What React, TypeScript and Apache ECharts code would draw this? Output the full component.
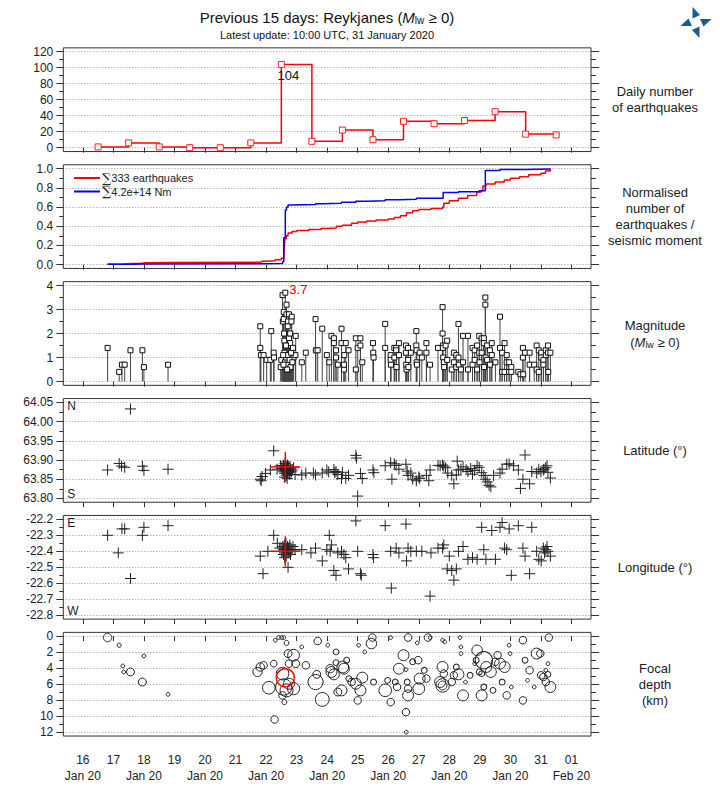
import React, { useEffect, useRef } from 'react';
import * as echarts from 'echarts';

const FONT = '"Liberation Sans", Arial, sans-serif';
const X_MIN = 15.36;
const X_MAX = 32.64;
const dayTicks = [16, 17, 18, 19, 20, 21, 22, 23, 24, 25, 26, 27, 28, 29, 30, 31, 32];

// Panel 1: daily number of earthquakes (day noon, count)
const dailyDays = [16.5, 17.5, 18.5, 19.5, 20.5, 21.5, 22.5, 23.5, 24.5, 25.5, 26.5, 27.5, 28.5, 29.5, 30.5, 31.5];
const dailyCounts = [1, 6, 1, 0, 0, 6, 104, 8, 22, 10, 33, 30, 34, 45, 17, 16];

// Panel 2: normalised cumulative curves [day, value]
const cumCount: [number, number][] = [
  [16.8, 0.003], [17.2, 0.006], [17.35, 0.012], [17.6, 0.015], [17.95, 0.018], [18.0, 0.021], [18.8, 0.024],
  [21.75, 0.027], [21.85, 0.035], [22.0, 0.04], [22.3, 0.05], [22.5, 0.065], [22.58, 0.075], [22.6, 0.2],
  [22.62, 0.27], [22.66, 0.3], [22.72, 0.33], [22.85, 0.345], [23.0, 0.355], [23.4, 0.365], [23.8, 0.375],
  [24.0, 0.38], [24.3, 0.4], [24.5, 0.41], [24.8, 0.43], [25.0, 0.444], [25.3, 0.455], [25.6, 0.465],
  [26.0, 0.474], [26.2, 0.49], [26.4, 0.51], [26.6, 0.54], [26.8, 0.56], [27.0, 0.574], [27.4, 0.585],
  [27.78, 0.6], [27.82, 0.64], [28.0, 0.664], [28.3, 0.69], [28.6, 0.72], [28.9, 0.755], [29.05, 0.77],
  [29.1, 0.82], [29.2, 0.84], [29.5, 0.86], [29.8, 0.88], [30.0, 0.9], [30.3, 0.915], [30.6, 0.935],
  [31.0, 0.952], [31.15, 0.975], [31.31, 1.0],
];
const cumMoment: [number, number][] = [
  [16.81, 0.004], [17.56, 0.007], [17.95, 0.009], [21.81, 0.012], [22.54, 0.03], [22.58, 0.28], [22.63, 0.57],
  [22.67, 0.6], [22.72, 0.62], [22.84, 0.625], [23.62, 0.635], [23.84, 0.64], [24.47, 0.65], [24.94, 0.66],
  [25.3, 0.665], [25.9, 0.675], [26.35, 0.68], [26.92, 0.69], [27.78, 0.695], [27.8, 0.75], [28.3, 0.76],
  [28.98, 0.77], [29.18, 0.98], [29.66, 0.99], [30.5, 0.995], [31.31, 1.0],
];
const countLegend = '∑333 earthquakes';
const momentLegend = '∑4.2e+14 Nm';

// Panel 3: magnitudes [day, M]
const magEvents: [number, number][] = [
  [16.81, 1.4], [17.19, 0.4], [17.28, 0.7], [17.37, 0.7], [17.56, 1.3], [17.95, 1.3], [18.0, 0.6], [18.79, 0.7],
  [21.81, 2.3], [21.81, 1.4], [21.83, 1.1], [21.92, 1.1], [22.02, 0.9], [22.14, 0.9], [22.17, 2.1], [22.25, 1.2], [22.26, 1.0],
  [22.48, 0.6], [22.5, 0.9], [22.54, 3.6], [22.55, 2.5], [22.58, 2.9], [22.58, 2.6], [22.59, 2.0], [22.6, 1.7],
  [22.67, 3.2], [22.67, 2.8], [22.72, 2.5], [22.71, 2.3], [22.72, 1.5], [22.75, 2.8], [22.75, 1.8],
  [22.76, 1.0], [22.79, 2.0], [22.79, 1.6], [22.84, 2.7], [22.83, 2.5], [22.9, 1.0], [22.97, 1.9], [22.96, 1.1],
  [22.6, 1.2], [22.62, 0.8], [22.64, 0.6], [22.66, 1.0], [22.68, 0.7], [22.7, 1.1], [22.73, 0.5], [22.77, 0.9],
  [22.8, 0.6], [22.82, 1.2], [22.86, 0.8], [22.88, 1.4], [22.65, 1.5], [22.69, 0.5], [22.56, 1.1], [22.57, 0.7],
  [23.17, 0.8], [23.3, 1.2], [23.62, 2.6], [23.63, 1.3], [23.69, 1.3], [23.84, 2.2], [23.99, 1.1], [24.07, 0.8],
  [24.14, 1.9], [24.22, 1.8], [24.22, 1.6], [24.29, 1.3], [24.29, 1.0], [24.35, 0.7], [24.47, 2.2], [24.47, 1.6],
  [24.55, 0.5], [24.55, 0.7], [24.56, 1.1], [24.61, 1.6], [24.7, 1.3], [24.94, 1.8], [24.94, 0.5], [25.0, 1.4],
  [25.09, 1.8], [25.09, 1.5], [25.15, 0.8], [25.5, 1.6], [25.51, 1.2], [25.52, 1.0], [25.9, 2.4], [25.9, 1.4],
  [26.08, 1.1], [26.08, 0.9], [26.09, 0.7], [26.2, 1.4], [26.2, 1.0], [26.26, 1.4], [26.26, 1.3], [26.27, 0.6],
  [26.35, 1.6], [26.35, 1.1], [26.58, 1.5], [26.58, 1.2], [26.59, 0.7], [26.6, 0.5], [26.65, 1.4], [26.65, 0.9],
  [26.66, 0.6], [26.74, 1.2], [26.92, 2.1], [26.92, 1.5], [26.93, 1.3], [26.93, 0.8], [26.94, 0.7], [27.03, 1.2],
  [27.1, 1.0], [27.25, 1.6], [27.25, 1.2], [27.37, 0.7], [27.63, 1.4], [27.78, 3.1], [27.78, 2.0], [27.79, 1.5],
  [27.79, 1.4], [27.8, 1.0], [27.82, 0.8], [27.83, 0.6], [27.88, 1.5], [27.93, 1.7], [27.93, 0.9], [28.08, 0.5],
  [28.15, 1.2], [28.15, 0.8], [28.23, 1.1], [28.23, 0.6], [28.3, 2.4], [28.3, 1.0], [28.31, 0.7], [28.38, 0.5],
  [28.45, 1.9], [28.45, 0.8], [28.61, 1.9], [28.61, 0.5], [28.76, 1.4], [28.76, 0.7], [28.83, 1.3], [28.83, 0.9],
  [28.91, 1.5], [28.91, 0.5], [28.98, 1.9], [28.98, 1.2], [28.99, 0.8], [29.06, 1.8], [29.06, 1.2], [29.13, 1.8],
  [29.13, 1.6], [29.14, 0.6], [29.18, 3.5], [29.18, 3.2], [29.19, 1.0], [29.24, 1.5], [29.24, 0.9], [29.33, 1.3],
  [29.33, 0.7], [29.39, 1.6], [29.39, 1.1], [29.51, 0.8], [29.66, 2.7], [29.66, 1.4], [29.73, 1.2], [29.73, 0.4],
  [29.81, 1.6], [29.81, 0.4], [29.88, 1.1], [29.88, 0.8], [29.96, 0.8], [29.96, 0.4], [30.03, 0.6], [30.03, 0.4],
  [30.26, 0.4], [30.33, 0.3], [30.41, 1.4], [30.41, 1.0], [30.42, 0.3], [30.48, 1.2], [30.63, 1.2], [30.63, 0.7],
  [30.78, 0.7], [30.86, 1.5], [30.86, 0.5], [30.93, 1.3], [30.93, 0.4], [31.01, 1.2], [31.01, 1.0], [31.08, 0.9],
  [31.08, 0.7], [31.16, 1.1], [31.16, 1.3], [31.23, 1.5], [31.23, 1.2], [31.24, 0.4], [31.31, 1.2],
];
const largestEvent = { day: 22.63, mag: 3.7, lat: 63.882, lon: -22.4, depth: 5.2 };

// Panel 4: latitudes [day, lat]
const latEvents: [number, number][] = [
  [16.81, 63.874], [17.19, 63.891], [17.27, 63.884], [17.37, 63.881], [17.56, 64.033], [17.95, 63.884], [18.0, 63.873], [18.79, 63.876],
  [21.81, 63.85], [21.84, 63.846], [21.87, 63.857], [21.98, 63.865], [22.14, 63.874], [22.25, 63.924], [22.36, 63.876], [22.47, 63.885],
  [22.52, 63.878], [22.55, 63.872], [22.57, 63.886], [22.58, 63.869], [22.6, 63.88], [22.61, 63.865], [22.62, 63.891], [22.64, 63.875],
  [22.65, 63.884], [22.66, 63.86], [22.67, 63.87], [22.68, 63.879], [22.7, 63.887], [22.71, 63.866], [22.72, 63.874], [22.74, 63.881],
  [22.76, 63.871], [22.78, 63.862], [22.8, 63.877], [22.83, 63.869], [22.86, 63.874], [22.9, 63.88], [22.95, 63.862], [22.6, 63.855],
  [22.64, 63.895], [22.69, 63.852], [23.17, 63.861], [23.3, 63.866], [23.55, 63.866], [23.62, 63.861], [23.84, 63.866], [23.99, 63.874],
  [24.05, 63.869], [24.22, 63.875], [24.25, 63.867], [24.29, 63.87], [24.35, 63.862], [24.47, 63.852], [24.5, 63.868], [24.61, 63.852],
  [24.7, 63.86], [24.94, 63.912], [24.96, 63.905], [25.0, 63.806], [25.09, 63.865], [25.15, 63.852], [25.5, 63.874], [25.53, 63.867],
  [25.9, 63.885], [26.08, 63.893], [26.12, 63.85], [26.2, 63.89], [26.26, 63.886], [26.35, 63.876], [26.58, 63.889], [26.62, 63.871],
  [26.65, 63.86], [26.74, 63.866], [26.8, 63.85], [26.92, 63.846], [27.0, 63.856], [27.03, 63.852], [27.25, 63.86], [27.33, 63.846],
  [27.37, 63.874], [27.63, 63.886], [27.7, 63.885], [27.78, 63.887], [27.82, 63.884], [27.88, 63.88], [27.95, 63.866], [28.08, 63.86],
  [28.15, 63.838], [28.23, 63.861], [28.26, 63.897], [28.3, 63.874], [28.38, 63.876], [28.45, 63.882], [28.55, 63.875], [28.61, 63.87],
  [28.7, 63.878], [28.76, 63.863], [28.83, 63.873], [28.91, 63.885], [28.98, 63.881], [29.06, 63.867], [29.13, 63.86], [29.18, 63.85],
  [29.24, 63.843], [29.3, 63.834], [29.36, 63.83], [29.45, 63.86], [29.66, 63.866], [29.73, 63.876], [29.88, 63.889], [29.96, 63.89],
  [30.1, 63.885], [30.26, 63.874], [30.33, 63.826], [30.41, 63.85], [30.48, 63.913], [30.63, 63.838], [30.7, 63.87], [30.86, 63.866],
  [30.93, 63.876], [31.0, 63.87], [31.08, 63.874], [31.16, 63.88], [31.23, 63.868], [31.31, 63.853], [31.1, 63.876], [31.2, 63.885],
];

// Panel 5: longitudes [day, lon]
const lonEvents: [number, number][] = [
  [16.81, -22.3], [17.16, -22.41], [17.28, -22.26], [17.37, -22.26], [17.56, -22.57], [17.95, -22.3], [18.0, -22.25], [18.79, -22.24],
  [21.81, -22.43], [21.9, -22.54], [22.06, -22.4], [22.25, -22.3], [22.37, -22.35], [22.45, -22.38],
  [22.52, -22.4], [22.55, -22.37], [22.57, -22.42], [22.58, -22.39], [22.6, -22.36], [22.61, -22.44], [22.62, -22.38], [22.64, -22.41],
  [22.65, -22.35], [22.66, -22.43], [22.68, -22.39], [22.7, -22.37], [22.72, -22.41], [22.74, -22.38], [22.76, -22.4], [22.78, -22.36],
  [22.8, -22.42], [22.84, -22.39], [22.72, -22.5], [22.88, -22.37], [22.95, -22.39],
  [23.17, -22.39], [23.47, -22.41], [23.62, -22.38], [23.84, -22.46], [23.99, -22.39], [24.07, -22.3], [24.1, -22.4], [24.14, -22.36],
  [24.22, -22.52], [24.29, -22.55], [24.35, -22.41], [24.47, -22.4], [24.55, -22.42], [24.61, -22.44], [24.7, -22.51], [24.94, -22.21],
  [25.0, -22.4], [25.09, -22.54], [25.12, -22.55], [25.5, -22.42], [25.52, -22.44], [25.9, -22.24], [26.08, -22.4], [26.1, -22.63],
  [26.26, -22.38], [26.35, -22.41], [26.58, -22.23], [26.6, -22.46], [26.65, -22.38], [26.74, -22.4], [26.92, -22.4], [27.1, -22.4],
  [27.37, -22.68], [27.4, -22.41], [27.63, -22.38], [27.78, -22.38], [27.82, -22.36], [27.93, -22.51], [28.0, -22.43], [28.08, -22.52],
  [28.15, -22.58], [28.23, -22.51], [28.3, -22.4], [28.45, -22.37], [28.61, -22.45], [28.76, -22.44], [28.91, -22.45], [29.06, -22.25],
  [29.13, -22.39], [29.2, -22.45], [29.39, -22.27], [29.51, -22.45], [29.66, -22.25], [29.73, -22.22], [29.81, -22.38], [29.88, -22.39],
  [29.96, -22.26], [30.03, -22.55], [30.26, -22.24], [30.41, -22.38], [30.48, -22.43], [30.63, -22.54], [30.7, -22.25], [30.86, -22.4],
  [30.93, -22.45], [31.01, -22.46], [31.08, -22.38], [31.16, -22.39], [31.23, -22.4], [31.31, -22.43], [31.12, -22.41], [31.2, -22.37],
];

// Panel 6: focal depth [day, depth km, magnitude]
const depthEvents: [number, number, number][] = [
  [16.81, 0.17, 1.4], [17.19, 1.13, 0.4], [17.31, 3.72, 0.3], [17.34, 4.47, 0.3], [17.56, 4.47, 1.3], [17.95, 5.73, 1.3], [18.0, 2.47, 0.3], [18.79, 7.27, 0.3],
  [21.72, 4.47, 1.6], [21.81, 3.85, 1.4], [21.92, 3.64, 1.2], [22.09, 6.44, 2.4], [22.25, 3.43, 1.0], [22.28, 10.41, 1.2], [22.3, 0.5, 0.3],
  [22.41, 0.17, 0.3], [22.51, 0.17, 0.3], [22.58, 0.17, 0.3], [22.67, 0.84, 0.6], [22.72, 2.17, 1.3], [22.75, 3.43, 1.2], [22.54, 4.68, 2.4],
  [22.58, 6.35, 3.3], [22.67, 6.77, 2.5], [22.75, 5.94, 2.0], [22.54, 7.4, 1.2], [22.6, 8.24, 0.6], [22.9, 2.38, 2.2], [22.9, 6.56, 2.3],
  [22.97, 3.43, 1.3], [23.17, 1.34, 0.3], [23.3, 3.64, 1.2], [23.62, 5.73, 3.0], [23.69, 0.6, 1.2], [23.66, 4.77, 1.3], [23.84, 7.9, 2.7],
  [24.02, 1.13, 0.3], [24.1, 4.06, 1.4], [24.14, 4.47, 2.0], [24.22, 4.77, 2.0], [24.29, 1.96, 0.8], [24.29, 3.3, 0.8], [24.35, 6.98, 1.3],
  [24.47, 6.77, 2.0], [24.51, 3.85, 2.2], [24.55, 4.06, 2.0], [24.64, 3.0, 0.8], [24.71, 5.3, 0.8], [24.8, 5.73, 1.2], [24.94, 5.94, 2.0],
  [25.0, 8.03, 1.2], [25.03, 1.13, 0.3], [25.09, 6.77, 2.0], [25.15, 5.18, 2.0], [25.23, 1.96, 0.3], [25.45, 0.92, 1.9], [25.48, 0.17, 1.2],
  [25.52, 5.73, 0.8], [25.9, 6.77, 2.4], [25.98, 5.52, 0.8], [26.08, 8.24, 1.2], [26.08, 0.17, 0.3], [26.23, 5.73, 0.8], [26.29, 6.35, 1.2],
  [26.35, 4.06, 2.0], [26.5, 2.38, 2.0], [26.58, 4.18, 0.3], [26.58, 9.49, 1.2], [26.59, 12.0, 0.3], [26.62, 5.73, 0.8], [26.65, 6.56, 1.2],
  [26.65, 7.4, 2.0], [26.65, 0.17, 1.2], [26.8, 3.2, 0.8], [26.95, 0.84, 0.3], [26.98, 3.0, 1.2], [27.0, 6.56, 2.2], [27.03, 5.3, 2.0],
  [27.18, 4.26, 0.8], [27.25, 5.3, 1.2], [27.3, 0.17, 1.2], [27.37, 0.17, 0.3], [27.7, 5.73, 2.0], [27.78, 3.85, 2.0], [27.78, 6.15, 2.6],
  [27.78, 6.15, 1.5], [27.78, 0.5, 0.3], [27.82, 4.68, 1.2], [27.85, 0.7, 0.3], [28.08, 5.73, 1.2], [28.15, 4.89, 1.2], [28.23, 3.85, 0.8],
  [28.3, 4.77, 2.0], [28.35, 0.17, 0.3], [28.38, 1.34, 0.3], [28.38, 2.17, 0.3], [28.45, 7.4, 2.0], [28.53, 5.73, 0.3], [28.68, 4.89, 0.8],
  [28.83, 3.43, 0.3], [28.88, 3.0, 0.8], [28.91, 1.76, 1.9], [28.98, 4.47, 0.8], [29.06, 4.68, 0.8], [29.06, 7.4, 2.0], [29.13, 6.35, 0.8],
  [29.13, 3.0, 3.5], [29.21, 3.85, 2.0], [29.36, 4.47, 2.0], [29.43, 6.77, 0.8], [29.51, 3.2, 1.2], [29.58, 2.38, 1.2], [29.66, 3.43, 2.0],
  [29.73, 5.73, 0.8], [29.81, 3.85, 2.0], [29.88, 7.4, 1.2], [29.96, 1.13, 0.3], [29.99, 2.17, 0.3], [30.03, 6.35, 0.3], [30.41, 0.5, 1.2],
  [30.41, 8.03, 1.2], [30.48, 3.0, 0.8], [30.56, 5.52, 0.3], [30.63, 4.26, 1.2], [30.78, 6.35, 0.3], [30.86, 2.17, 2.0], [30.98, 2.17, 1.2],
  [31.01, 4.89, 1.2], [31.08, 5.1, 1.2], [31.16, 4.26, 0.3], [31.16, 5.73, 1.2], [31.23, 4.77, 0.8], [31.26, 0.17, 1.2], [31.31, 6.35, 2.0],
  [31.23, 3.43, 0.3],
];

const rightLabels = [
  'Daily number\nof earthquakes',
  'Normalised\nnumber of\nearthquakes /\nseismic moment',
  '',
  'Latitude (°)',
  'Longitude (°)',
  'Focal\ndepth\n(km)',
];

// layout
const LEFT = 63.3;
const WIDTH = 527.7;
const TOP0 = 51.7;
const STEP = 116.9;
const PH = 96;
const PAD = 3.84;
const panelTop = (i: number) => TOP0 + STEP * i;

const yDefs = [
  { min: 0, max: 120, interval: 20, fmt: (v: number) => String(v) },
  { min: 0, max: 1, interval: 0.2, fmt: (v: number) => v.toFixed(1) },
  { min: 0, max: 4, interval: 1, fmt: (v: number) => String(v) },
  { min: 63.8, max: 64.05, interval: 0.05, fmt: (v: number) => v.toFixed(2) },
  { min: -22.8, max: -22.2, interval: 0.1, fmt: (v: number) => v.toFixed(1) },
  { min: 0, max: 12, interval: 2, fmt: (v: number) => String(v), inverse: true },
];

const crossRender = (half: number, color: string, lw: number) => (params: any, api: any) => {
  const c = api.coord([api.value(0), api.value(1)]);
  return {
    type: 'group',
    children: [
      { type: 'line', shape: { x1: c[0] - half, y1: c[1], x2: c[0] + half, y2: c[1] }, style: { stroke: color, lineWidth: lw } },
      { type: 'line', shape: { x1: c[0], y1: c[1] - half, x2: c[0], y2: c[1] + half }, style: { stroke: color, lineWidth: lw } },
    ],
  };
};

export default function App() {
  const ref = useRef<HTMLDivElement>(null);
  useEffect(() => {
    document.body.style.margin = '0';
    if (!ref.current) return;
    const chart = echarts.init(ref.current, null, { renderer: 'svg' });

    const grids = yDefs.map((_, i) => ({ left: LEFT, width: WIDTH, top: panelTop(i), height: PH, show: false }));
    const xAxes = yDefs.map((_, i) => ({
      type: 'value', gridIndex: i, min: X_MIN, max: X_MAX, position: 'bottom', offset: PAD,
      axisLine: { show: false }, splitLine: { show: false },
      axisTick: { show: true, customValues: dayTicks, length: 5, lineStyle: { color: '#333' } },
      axisLabel: {
        show: i === 5, customValues: dayTicks, margin: 16, fontSize: 12, lineHeight: 16, color: '#222', fontFamily: FONT,
        formatter: (v: number) => {
          const d = Math.round(v);
          if (d === 32) return '01\nFeb 20';
          return d % 2 === 0 ? `${d}\nJan 20` : `${d}`;
        },
      },
    }));
    const yAxes: any[] = [];
    yDefs.forEach((d, i) => {
      yAxes.push({
        type: 'value', gridIndex: i, min: d.min, max: d.max, interval: d.interval, inverse: !!(d as any).inverse, position: 'left',
        axisLine: { show: false },
        axisTick: { show: true, length: 7, lineStyle: { color: '#333' } },
        minorTick: { show: true, splitNumber: 2, length: 4, lineStyle: { color: '#333' } },
        splitLine: { show: true, lineStyle: { color: '#999', type: [1, 2], width: 1 } },
        axisLabel: { formatter: d.fmt, fontSize: 12, color: '#222', margin: 10, fontFamily: FONT },
      });
      yAxes.push({
        type: 'value', gridIndex: i, min: d.min, max: d.max, interval: d.interval, inverse: !!(d as any).inverse, position: 'right',
        axisLine: { show: false },
        axisTick: { show: true, length: 8, lineStyle: { color: '#333' } },
        minorTick: { show: true, splitNumber: 2, length: 5, lineStyle: { color: '#333' } },
        splitLine: { show: false },
        axisLabel: { show: false },
      });
    });

    const dailyData: any[] = dailyDays.map((d, k) => {
      const item: any = { value: [d, dailyCounts[k]] };
      if (dailyCounts[k] === Math.max(...dailyCounts)) {
        item.label = { show: true, formatter: String(dailyCounts[k]), position: 'bottom', distance: 1, offset: [7, 0], color: '#111', fontSize: 13, fontFamily: FONT };
      }
      return item;
    });

    const magScatter: any[] = magEvents.map((e) => ({ value: e }));
    magScatter.push({
      value: [largestEvent.day, largestEvent.mag],
      label: { show: true, formatter: largestEvent.mag.toFixed(1), position: 'right', distance: 1, offset: [0, -3], color: '#e00000', fontSize: 13, fontFamily: FONT },
    });
    const magAll = [...magEvents, [largestEvent.day, largestEvent.mag]];

    const series: any[] = [
      {
        type: 'line', xAxisIndex: 0, yAxisIndex: 0, step: 'end', data: dailyData, symbol: 'rect', symbolSize: 6,
        lineStyle: { color: '#ff0000', width: 1.5 }, itemStyle: { color: '#fff', borderColor: '#ff2020', borderWidth: 1 }, clip: false,
      },
      {
        name: countLegend, type: 'line', xAxisIndex: 1, yAxisIndex: 2, step: 'end', data: cumCount, showSymbol: false,
        lineStyle: { color: '#ff0000', width: 1.5 }, clip: false,
      },
      {
        name: momentLegend, type: 'line', xAxisIndex: 1, yAxisIndex: 2, step: 'end', data: cumMoment, showSymbol: false,
        lineStyle: { color: '#0000ff', width: 1.5 }, clip: false,
      },
      {
        type: 'custom', xAxisIndex: 2, yAxisIndex: 4, data: magAll, clip: false, z: 2,
        renderItem: (params: any, api: any) => {
          const p0 = api.coord([api.value(0), 0]);
          const p1 = api.coord([api.value(0), api.value(1)]);
          return { type: 'line', shape: { x1: p0[0], y1: p0[1], x2: p1[0], y2: p1[1] }, style: { stroke: '#444', lineWidth: 1 } };
        },
      },
      {
        type: 'scatter', xAxisIndex: 2, yAxisIndex: 4, data: magScatter, symbol: 'rect', symbolSize: 5, clip: false, z: 3,
        itemStyle: { color: '#fff', borderColor: '#111', borderWidth: 1, opacity: 1 },
      },
      { type: 'custom', xAxisIndex: 3, yAxisIndex: 6, data: latEvents, clip: false, renderItem: crossRender(5.5, '#222', 1) },
      { type: 'custom', xAxisIndex: 3, yAxisIndex: 6, data: [[largestEvent.day, largestEvent.lat]], clip: false, z: 5, renderItem: crossRender(15, '#ff0000', 1.5) },
      { type: 'custom', xAxisIndex: 4, yAxisIndex: 8, data: lonEvents, clip: false, renderItem: crossRender(5.5, '#222', 1) },
      { type: 'custom', xAxisIndex: 4, yAxisIndex: 8, data: [[largestEvent.day, largestEvent.lon]], clip: false, z: 5, renderItem: crossRender(15, '#ff0000', 1.5) },
      {
        type: 'scatter', xAxisIndex: 5, yAxisIndex: 10, data: depthEvents, clip: false,
        symbolSize: (v: number[]) => 2.5 + 4.2 * v[2],
        itemStyle: { color: 'rgba(0,0,0,0)', borderColor: '#222', borderWidth: 1, opacity: 1 },
      },
      {
        type: 'scatter', xAxisIndex: 5, yAxisIndex: 10, data: [[largestEvent.day, largestEvent.depth, largestEvent.mag]], clip: false, z: 5,
        symbolSize: (v: number[]) => 2.5 + 4.2 * v[2],
        itemStyle: { color: 'rgba(0,0,0,0)', borderColor: '#ff0000', borderWidth: 1.5, opacity: 1 },
      },
    ];

    const graphics: any[] = [];
    yDefs.forEach((_, i) => {
      graphics.push({
        type: 'rect', silent: true, z: 10,
        shape: { x: LEFT, y: panelTop(i) - PAD, width: WIDTH, height: PH + 2 * PAD },
        style: { fill: 'none', stroke: '#333', lineWidth: 1 },
      });
      const cy = panelTop(i) + PH / 2;
      if (i === 2) {
        graphics.push({
          type: 'text', x: 655, y: cy, z: 10,
          style: {
            text: 'Magnitude\n({m|M}{s|lw} ≥ 0)', align: 'center', verticalAlign: 'middle', fontSize: 13, lineHeight: 17,
            fontFamily: FONT, fill: '#222',
            rich: { m: { fontSize: 13, fontStyle: 'italic', fontFamily: FONT, fill: '#222' }, s: { fontSize: 9, fontFamily: FONT, fill: '#222', padding: [6, 0, 0, 0] } },
          },
        });
      } else {
        graphics.push({
          type: 'text', x: 655, y: cy, z: 10,
          style: { text: rightLabels[i], align: 'center', verticalAlign: 'middle', fontSize: 13, lineHeight: 16, fontFamily: FONT, fill: '#222' },
        });
      }
    });
    // N/S E/W
    const corner = (t: string, i: number, top: boolean) => ({
      type: 'text', x: LEFT + 4, y: top ? panelTop(i) + 4 : panelTop(i) + PH - 4, z: 10,
      style: { text: t, align: 'left', verticalAlign: 'middle', fontSize: 12, fontFamily: FONT, fill: '#222' },
    });
    graphics.push(corner('N', 3, true), corner('S', 3, false), corner('E', 4, true), corner('W', 4, false));
    // legend
    [[countLegend, '#ff0000', 178], [momentLegend, '#0000ff', 191.5]].forEach(([name, col, y]: any) => {
      graphics.push({ type: 'line', z: 10, shape: { x1: 74, y1: y, x2: 100, y2: y }, style: { stroke: col, lineWidth: 2 } });
      graphics.push({
        type: 'text', x: 102, y: y, z: 10,
        style: {
          text: `{s|∑}${name.slice(1)}`, verticalAlign: 'middle', align: 'left', fontSize: 11, lineHeight: 11, fontFamily: FONT, fill: '#222',
          rich: { s: { fontSize: 13, lineHeight: 11, fontFamily: '"DejaVu Serif", serif', fill: '#222' } },
        },
      });
    });
    // title
    graphics.push({
      type: 'text', x: 327, y: 17, z: 10,
      style: {
        text: 'Previous 15 days: Reykjanes ({m|M}{s|lw} ≥ 0)', align: 'center', verticalAlign: 'middle', fontSize: 15, fontFamily: FONT, fill: '#111',
        rich: { m: { fontSize: 15, fontStyle: 'italic', fontFamily: FONT, fill: '#111' }, s: { fontSize: 10, fontFamily: FONT, fill: '#111', padding: [7, 0, 0, 0] } },
      },
    });
    graphics.push({
      type: 'text', x: 327, y: 35, z: 10,
      style: { text: 'Latest update: 10:00 UTC, 31 January 2020', align: 'center', verticalAlign: 'middle', fontSize: 11, fontFamily: FONT, fill: '#111' },
    });
    // logo
    const cx = 696, cy0 = 22.5;
    const tri = [[-3.5, -15.5], [-3.5, -4], [4, -7.5]];
    for (let r = 0; r < 4; r++) {
      const pts = tri.map(([x, y]) => {
        let px = x, py = y;
        for (let k = 0; k < r; k++) { const t = px; px = -py; py = t; }
        return [cx + px, cy0 + py];
      });
      graphics.push({ type: 'polygon', z: 10, shape: { points: pts }, style: { fill: '#1b5a96' } });
    }

    chart.setOption({
      animation: false,
      backgroundColor: '#fff',
      textStyle: { fontFamily: FONT },
      grid: grids,
      xAxis: xAxes,
      yAxis: yAxes,
      series,
      graphic: graphics,
    });
    return () => chart.dispose();
  }, []);
  return <div ref={ref} style={{ width: 720, height: 800 }} />;
}
